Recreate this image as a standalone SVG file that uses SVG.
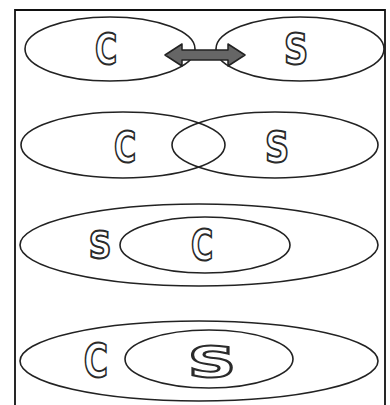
<svg xmlns="http://www.w3.org/2000/svg" width="390" height="405" viewBox="0 0 390 405">
<style>
.e{fill:none;stroke:#222;stroke-width:1.6}
.l{font-family:"DejaVu Sans",sans-serif;font-weight:bold;fill:#fff;stroke:#2a2a2a;stroke-width:2;text-anchor:middle}
</style>
<rect width="390" height="405" fill="#fff"/>
<path d="M15,405 V10 H385 V405" fill="none" stroke="#111" stroke-width="1.8"/>
<g id="row1">
<g id="c1"><ellipse class="e" cx="110" cy="49" rx="85" ry="32"/><text class="l" font-size="42" transform="translate(106,64) scale(0.72,1)">C</text></g>
<g id="s1"><ellipse class="e" cx="300" cy="49" rx="84" ry="32"/><text class="l" font-size="42" transform="translate(296,64) scale(0.8,1)">S</text></g>
</g>
<g id="connectors">
<polygon points="165,55 182,44 182,50 228,50 228,44 245,55 228,66 228,60 182,60 182,66" fill="#666" stroke="#222" stroke-width="1.5" stroke-linejoin="round"/>
</g>
<g id="row2">
<g id="c2"><ellipse class="e" cx="123" cy="145" rx="102" ry="33"/><text class="l" font-size="42" transform="translate(125,162) scale(0.72,1)">C</text></g>
<g id="s2"><ellipse class="e" cx="275" cy="145" rx="103" ry="33"/><text class="l" font-size="42" transform="translate(277,162) scale(0.8,1)">S</text></g>
</g>
<g id="row3">
<g id="s3"><ellipse class="e" cx="199" cy="245" rx="179" ry="41"/><text class="l" font-size="37" transform="translate(100,258) scale(0.85,1)">S</text></g>
<g id="c3"><ellipse class="e" cx="205" cy="245" rx="85" ry="28"/><text class="l" font-size="42" transform="translate(202,260) scale(0.72,1)">C</text></g>
</g>
<g id="row4">
<g id="c4"><ellipse class="e" cx="199" cy="361" rx="179" ry="40"/><text class="l" font-size="46" transform="translate(96,377) scale(0.72,1)">C</text></g>
<g id="s4"><ellipse class="e" cx="209" cy="359" rx="84" ry="29"/><text class="l" font-size="42" transform="translate(212,377) scale(1.6,1)">S</text></g>
</g>
</svg>
